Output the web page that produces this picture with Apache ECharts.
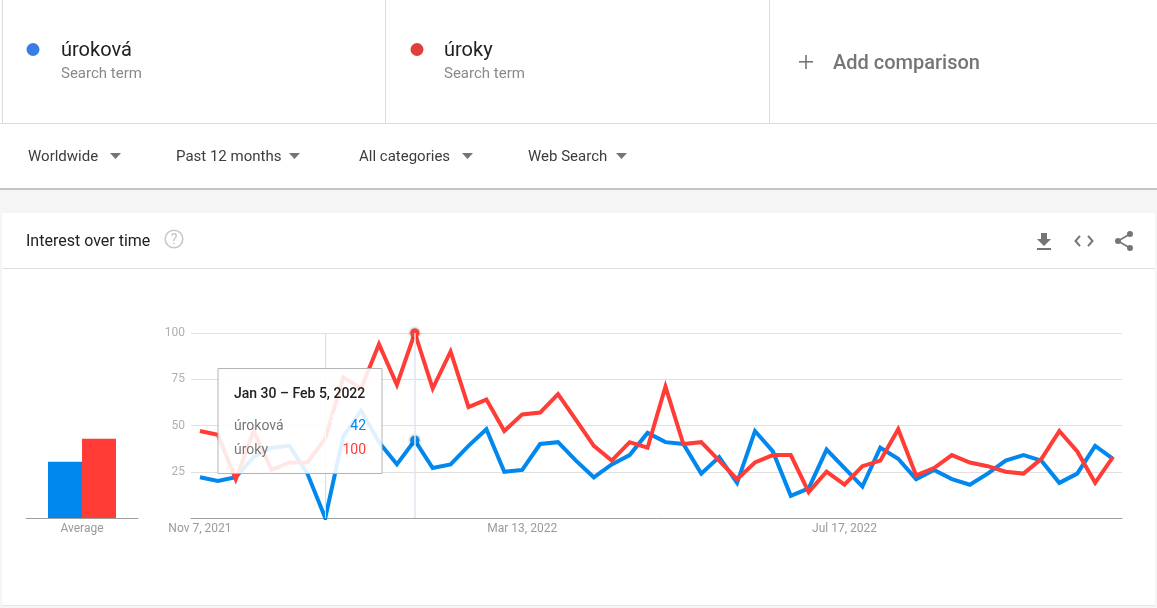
<!DOCTYPE html>
<html><head><meta charset="utf-8">
<style>html,body{margin:0;padding:0;background:#f5f5f5;overflow:hidden}#c{width:1157px;height:608px}</style>
<script src="https://cdn.jsdelivr.net/npm/echarts@6/dist/echarts.min.js"></script>
</head><body><div id="c"></div>
<script>
const weeks = ['Nov 7, 2021','Nov 14, 2021','Nov 21, 2021','Nov 28, 2021','Dec 5, 2021','Dec 12, 2021','Dec 19, 2021','Dec 26, 2021','Jan 2, 2022','Jan 9, 2022','Jan 16, 2022','Jan 23, 2022','Jan 30, 2022','Feb 6, 2022','Feb 13, 2022','Feb 20, 2022','Feb 27, 2022','Mar 6, 2022','Mar 13, 2022','Mar 20, 2022','Mar 27, 2022','Apr 3, 2022','Apr 10, 2022','Apr 17, 2022','Apr 24, 2022','May 1, 2022','May 8, 2022','May 15, 2022','May 22, 2022','May 29, 2022','Jun 5, 2022','Jun 12, 2022','Jun 19, 2022','Jun 26, 2022','Jul 3, 2022','Jul 10, 2022','Jul 17, 2022','Jul 24, 2022','Jul 31, 2022','Aug 7, 2022','Aug 14, 2022','Aug 21, 2022','Aug 28, 2022','Sep 4, 2022','Sep 11, 2022','Sep 18, 2022','Sep 25, 2022','Oct 2, 2022','Oct 9, 2022','Oct 16, 2022','Oct 23, 2022','Oct 30, 2022'];
const urokova = [22,20,22,33,38,39,24,0,44,58,41,29,42,27,29,39,48,25,26,40,41,31,22,29,34,46,41,40,24,33,19,47,36,12,16,37,27,17,38,32,21,26,21,18,24,31,34,31,19,24,39,32];
const uroky = [47,45,21,47,26,30,30,43,76,70,94,72,100,70,90,60,64,47,56,57,67,53,39,31,41,38,71,40,41,31,21,30,34,34,14,25,18,28,31,48,23,27,34,30,28,25,24,32,47,36,19,33];
const averageLabel = ['Average'];
const averageUrokova = [30.4];
const averageUroky = [42.8];
const xTickWeeks = ['Nov 7, 2021','Mar 13, 2022','Jul 17, 2022'];
const yTicks = [25,50,75,100];
const hoverWeek = 'Jan 30, 2022';
const noteWeek = 'Dec 26, 2021';

const BLUE='#0088ee', RED='#ff3d36', FONT='Roboto', ICON='#757575';
const hoverIndex = weeks.indexOf(hoverWeek);
const txt=(x,y,text,size,fill,extra={})=>({type:'text',z:extra.z??5,x,y,style:{text,fontFamily:FONT,fontSize:size,fill,fontWeight:extra.weight||400,textAlign:extra.align||'left',textVerticalAlign:'middle',verticalAlign:'middle'},rotation:extra.rotation||0});
const rect=(x,y,w,h,fill,z=-1,extra={})=>({type:'rect',z,shape:{x,y,width:w,height:h},style:Object.assign({fill},extra)});
const tri=(x,y)=>({type:'polygon',z:5,shape:{points:[[x,y],[x+11,y],[x+5.5,y+6]]},style:{fill:ICON}});
const poly=(points)=>({type:'polygon',z:5,shape:{points},style:{fill:ICON}});
const stroke=(points,w=2)=>({type:'polyline',z:5,shape:{points},style:{fill:'none',stroke:ICON,lineWidth:w}});
const dot=(cx,cy,r)=>({type:'circle',z:5,shape:{cx,cy,r},style:{fill:ICON}});

const graphic=[
  rect(0,0,1157,188,'#ffffff'),
  rect(0,188,1157,2,'#c4c4c4'),
  rect(2,213,1153,392,'#ffffff'),
  rect(2,605,1153,1,'#e6e6e6'),
  rect(2,0,1,123,'#dcdcdc'),rect(385,0,1,123,'#dcdcdc'),rect(769,0,1,123,'#dcdcdc'),
  rect(0,123,1157,1,'#dcdcdc'),
  rect(2,268,1153,1,'#e0e0e0'),
  {type:'circle',z:5,shape:{cx:33,cy:49.5,r:6.5},style:{fill:'#3b7de6'}},
  {type:'circle',z:5,shape:{cx:417,cy:49.5,r:6.5},style:{fill:'#e13f3c'}},
  txt(61,51,'úroková',20,'#212121'),
  txt(61,74.5,'Search term',15,'#8a8a8a'),
  txt(444,51,'úroky',20,'#212121'),
  txt(444,74.5,'Search term',15,'#8a8a8a'),
  rect(799,61,14,1.6,'#757575',5),rect(805.2,55,1.6,14,'#757575',5),
  txt(833,64,'Add comparison',20,'#757575',{weight:500}),
  txt(28,157.5,'Worldwide',15,'#3c3c3c'),tri(110,153),
  txt(176,157.5,'Past 12 months',15,'#3c3c3c'),tri(289,153),
  txt(359,157.5,'All categories',15,'#3c3c3c'),tri(462,153),
  txt(528,157.5,'Web Search',15,'#3c3c3c'),tri(616,153),
  txt(26,242,'Interest over time',16,'#212121'),
  {type:'circle',z:5,shape:{cx:174,cy:239,r:8.8},style:{fill:'none',stroke:'#c8c8c8',lineWidth:1.6}},
  txt(174,240,'?',14,'#c0c0c0',{align:'center'}),
  // download icon
  poly([[1041,233],[1047,233],[1047,239],[1051,239],[1044,246],[1037,239],[1041,239]]),
  rect(1037,248,14,2,ICON,5),
  // embed icon
  stroke([[1080,235.8],[1075.5,241],[1080,246.2]]),
  stroke([[1088,235.8],[1092.5,241],[1088,246.2]]),
  // share icon
  stroke([[1130,234],[1118,241],[1130,248]],1.6),
  dot(1118,241,3),dot(1130,234,3),dot(1130,248,3),
  // translucent hover card
  {type:'rect',z:20,shape:{x:218,y:368.5,width:164,height:105},style:{fill:'rgba(255,255,255,0.88)',stroke:'#b4b4b4',lineWidth:1}},
  txt(234,394.5,'Jan 30 – Feb 5, 2022',14,'#212121',{z:21,weight:500}),
  txt(234,426.5,'úroková',14,'#757575',{z:21}),
  txt(366,426.5,String(urokova[hoverIndex]),14,BLUE,{z:21,align:'right'}),
  txt(234,450.5,'úroky',14,'#757575',{z:21}),
  txt(366,450.5,String(uroky[hoverIndex]),14,RED,{z:21,align:'right'}),
  txt(335,425,'Note',11,'#ffffff',{z:19,align:'center',rotation:Math.PI/2})
];

const markerSize=(v,p)=>p.dataIndex===hoverIndex?9:0;
const lineSeries=(name,data,color)=>({
  name,type:'line',xAxisIndex:0,yAxisIndex:0,data,symbol:'circle',symbolSize:markerSize,showSymbol:true,showAllSymbol:true,
  lineStyle:{color,width:4,join:'miter',miterLimit:6,cap:'butt'},
  itemStyle:{color,shadowBlur:3,shadowColor:'rgba(0,0,0,0.6)'},
  emphasis:{disabled:true},animation:false,silent:true
});

const opt={
  animation:false,
  textStyle:{fontFamily:FONT},
  graphic:{elements:graphic},
  grid:[
    {left:191,top:333,width:931,height:185},
    {left:26,top:333,width:112,height:185}
  ],
  xAxis:[
    {type:'category',gridIndex:0,data:weeks,boundaryGap:true,
     axisLine:{lineStyle:{color:'#9e9e9e',width:1}},axisTick:{show:false},
     axisLabel:{interval:(i,v)=>xTickWeeks.includes(v),color:'#9a9a9a',fontSize:12,fontFamily:FONT,margin:5,hideOverlap:false}},
    {type:'category',gridIndex:1,data:averageLabel,
     axisLine:{lineStyle:{color:'#9e9e9e',width:1}},axisTick:{show:false},
     axisLabel:{color:'#9a9a9a',fontSize:12,fontFamily:FONT,margin:5}}
  ],
  yAxis:[
    {type:'value',gridIndex:0,min:0,max:100,interval:25,
     axisLine:{show:false},axisTick:{show:false},
     splitLine:{lineStyle:{color:'#e0e0e0',width:1}},
     axisLabel:{formatter:v=>yTicks.includes(v)?String(v):'',color:'#b0b0b0',fontSize:12,fontFamily:FONT,margin:6,padding:[4,0,0,0]}},
    {type:'value',gridIndex:1,min:0,max:100,show:false,splitLine:{show:false}}
  ],
  series:[
    Object.assign(lineSeries('úroková',urokova,BLUE),{
      markLine:{silent:true,symbol:'none',label:{show:false},animation:false,
        data:[{xAxis:noteWeek,lineStyle:{color:'#dcdcdc',width:1,type:'solid'}},{xAxis:hoverWeek,lineStyle:{color:'#dfe6ee',width:1.5,type:'solid'}}]}
    }),
    lineSeries('úroky',uroky,RED),
    {name:'úroková average',type:'bar',xAxisIndex:1,yAxisIndex:1,data:averageUrokova,barWidth:34,barGap:0,itemStyle:{color:BLUE},silent:true,animation:false},
    {name:'úroky average',type:'bar',xAxisIndex:1,yAxisIndex:1,data:averageUroky,barWidth:34,barGap:0,itemStyle:{color:RED},silent:true,animation:false}
  ]
};
const chart=echarts.init(document.getElementById('c'),null,{renderer:'canvas',width:1157,height:608});
chart.setOption(opt);
</script></body></html>
